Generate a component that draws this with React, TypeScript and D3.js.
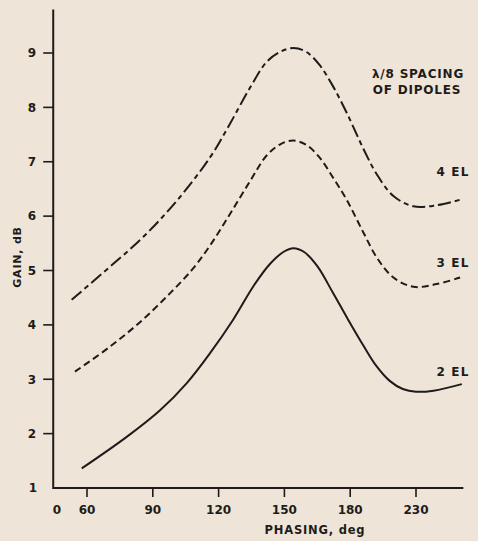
import React from "react";
import * as d3 from "d3";

// phasing (deg, on the plotted scale) and gain (dB)
const phase2 = [57.6, 78.1, 93.3, 105.5, 116.1, 126.7, 136, 143.4, 149.5, 154.1, 159, 165, 172, 179, 186, 192, 198, 204, 210, 218, 230.9];
const gain2 = [1.36, 1.94, 2.43, 2.93, 3.48, 4.1, 4.72, 5.12, 5.34, 5.41, 5.34, 5.08, 4.6, 4.1, 3.62, 3.24, 2.97, 2.82, 2.77, 2.79, 2.91];

const phase3 = [54.5, 70.5, 85, 97.8, 108, 116.1, 125.2, 134.3, 142, 148.5, 154.1, 160, 166, 172, 178.4, 186.0, 192.1, 199.7, 208.8, 219.4, 230.1];
const gain3 = [3.14, 3.6, 4.08, 4.58, 5.02, 5.46, 6.04, 6.64, 7.12, 7.33, 7.39, 7.31, 7.08, 6.72, 6.3, 5.7, 5.24, 4.87, 4.7, 4.75, 4.87];

const phase4 = [53.0, 70.5, 85.7, 100.9, 116.1, 125.2, 134.3, 142, 148.5, 154.1, 160, 166, 172, 178.4, 186.0, 192.1, 199.7, 208.8, 219.4, 230.9];
const gain4 = [4.46, 5.07, 5.62, 6.28, 7.08, 7.7, 8.36, 8.84, 9.03, 9.09, 9.02, 8.78, 8.4, 7.9, 7.24, 6.77, 6.37, 6.18, 6.2, 6.31];

const xTicks = [60, 90, 120, 150, 180, 210];
const xTickLabels = ["60", "90", "120", "150", "180", "230"];
const yTicks = [2, 3, 4, 5, 6, 7, 8, 9];

const series = [
  { name: "2 EL", x: phase2, y: gain2, dash: "none" },
  { name: "3 EL", x: phase3, y: gain3, dash: "7 4" },
  { name: "4 EL", x: phase4, y: gain4, dash: "13 4 5 4" },
];

const W = 478;
const H = 541;
const ink = "#1e1c1a";
const font = "'DejaVu Sans', sans-serif";

export default function App() {
  const x = d3.scaleLinear().domain([60, 210]).range([87, 416]);
  const y = d3.scaleLinear().domain([1, 9]).range([488, 53]);
  const x0 = 44.6;
  const x1 = 231.6;
  const yTop = 9.8;

  const line = d3.line<number>().curve(d3.curveCatmullRom.alpha(0.5));

  return (
    <svg
      width={W}
      height={H}
      style={{ position: "absolute", left: 0, top: 0, background: "#eee5d8" }}
      fontFamily={font}
    >
      {/* axes */}
      <line x1={x(x0)} x2={x(x0)} y1={y(yTop)} y2={y(1) + 1} stroke={ink} strokeWidth={2} />
      <line x1={x(x0)} x2={x(x1)} y1={y(1)} y2={y(1)} stroke={ink} strokeWidth={2} />

      {yTicks.map((t) => (
        <g key={t}>
          <line x1={x(x0) - 10} x2={x(x0)} y1={y(t)} y2={y(t)} stroke={ink} strokeWidth={1.6} />
          <text x={32} y={y(t)} dy="0.36em" textAnchor="middle" fontSize={12} fontWeight="bold" fill={ink}>
            {t}
          </text>
        </g>
      ))}
      <text x={33} y={y(1)} dy="0.36em" textAnchor="middle" fontSize={12} fontWeight="bold" fill={ink}>
        1
      </text>

      {xTicks.map((t, i) => (
        <g key={t}>
          <line x1={x(t)} x2={x(t)} y1={y(1)} y2={y(1) + 9} stroke={ink} strokeWidth={1.6} />
          <text x={x(t)} y={514} textAnchor="middle" fontSize={12} fontWeight="bold" fill={ink}>
            {xTickLabels[i]}
          </text>
        </g>
      ))}
      <text x={57} y={514} textAnchor="middle" fontSize={12} fontWeight="bold" fill={ink}>
        0
      </text>

      <text x={315} y={534} textAnchor="middle" fontSize={11.5} fontWeight="bold" letterSpacing={0.8} fill={ink}>
        PHASING, deg
      </text>
      <text
        transform="translate(21,257) rotate(-90)"
        textAnchor="middle"
        fontSize={11}
        fontWeight="bold"
        letterSpacing={0.8}
        fill={ink}
      >
        GAIN, dB
      </text>

      {/* curves */}
      {series.map((s) => (
        <path
          key={s.name}
          d={line.x((_, i) => x(s.x[i])).y((v) => y(v))(s.y) || ""}
          fill="none"
          stroke={ink}
          strokeWidth={2}
          strokeDasharray={s.dash}
        />
      ))}

      {/* labels */}
      {[
        ["4 EL", 172],
        ["3 EL", 263],
        ["2 EL", 372],
      ].map(([t, py]) => (
        <text key={t} x={453} y={py as number} dy="0.36em" textAnchor="middle" fontSize={12} fontWeight="bold" letterSpacing={1.2} fill={ink}>
          {t}
        </text>
      ))}
      <text x={418} y={78} textAnchor="middle" fontSize={12} fontWeight="bold" letterSpacing={0.8} fill={ink}>
        λ/8 SPACING
      </text>
      <text x={417} y={94} textAnchor="middle" fontSize={12} fontWeight="bold" letterSpacing={0.8} fill={ink}>
        OF DIPOLES
      </text>
    </svg>
  );
}
